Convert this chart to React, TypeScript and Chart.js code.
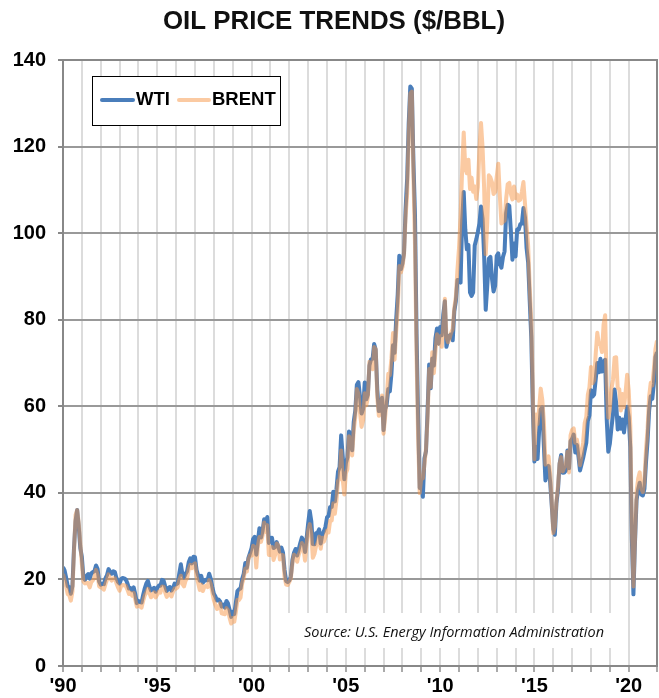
import { useEffect, useRef } from 'react';
import { Chart, registerables } from 'chart.js';

Chart.register(...registerables);

const TITLE = 'OIL PRICE TRENDS ($/BBL)';
const SOURCE = 'Source: U.S. Energy Information Administration';
const SERIES_NAMES = ['WTI', 'BRENT'];
const START_YEAR = 1990;
const X_MIN = 1990;
const X_MAX = 2021.5;
const Y_MIN = 0;
const Y_MAX = 140;
const Y_STEP = 20;
const LABEL_EVERY = 5;

// Monthly averages, Jan 1990 – Jul 2021
const WTI = [
  22.86, 22.11, 20.39, 18.43, 18.2, 16.7, 18.45, 27.31, 33.51, 36.04, 32.33, 27.28,
  25.23, 20.48, 19.9, 20.83, 21.23, 20.19, 21.4, 21.69, 21.89, 23.23, 22.46, 19.5,
  18.79, 19.01, 18.92, 20.23, 20.98, 22.39, 21.78, 21.34, 21.88, 21.69, 20.34, 19.41,
  19.03, 20.09, 20.32, 20.25, 19.95, 19.09, 17.89, 18.01, 17.5, 18.15, 16.61, 14.52,
  15.03, 14.78, 14.68, 16.42, 17.89, 19.06, 19.66, 18.38, 17.45, 17.72, 18.07, 17.16,
  18.04, 18.57, 18.54, 19.9, 19.74, 18.45, 17.33, 18.02, 18.23, 17.43, 17.99, 19.03,
  18.85, 19.09, 21.33, 23.5, 21.17, 20.42, 21.3, 21.9, 23.97, 24.88, 23.71, 25.23,
  25.13, 22.18, 20.97, 19.7, 20.82, 19.26, 19.66, 19.95, 19.8, 21.33, 20.19, 18.33,
  16.72, 16.06, 15.12, 15.35, 14.91, 13.72, 14.17, 13.47, 15.03, 14.46, 13.0, 11.35,
  12.52, 12.01, 14.68, 17.31, 17.72, 17.92, 20.1, 21.28, 23.8, 22.69, 25.0, 26.1,
  27.26, 29.37, 29.84, 25.72, 28.79, 31.82, 29.7, 31.26, 33.88, 33.11, 34.42, 28.44,
  29.59, 29.61, 27.25, 27.49, 28.63, 27.6, 26.43, 27.37, 26.2, 22.17, 19.64, 19.39,
  19.72, 20.72, 24.53, 26.18, 27.04, 25.52, 26.97, 28.39, 29.66, 28.84, 26.35, 29.46,
  32.95, 35.83, 33.51, 28.17, 28.11, 30.66, 30.75, 31.57, 28.31, 30.34, 31.11, 32.13,
  34.31, 34.69, 36.74, 36.75, 40.28, 38.03, 40.78, 44.9, 45.94, 53.28, 48.47, 43.15,
  46.84, 48.15, 54.19, 52.98, 49.83, 56.35, 59.0, 64.99, 65.59, 62.26, 58.32, 59.41,
  65.49, 61.63, 62.69, 69.44, 70.84, 70.95, 74.41, 73.04, 63.8, 58.89, 59.08, 61.96,
  54.51, 59.28, 60.44, 63.98, 63.46, 67.49, 74.12, 72.36, 79.92, 85.8, 94.77, 91.69,
  92.97, 95.39, 105.45, 112.58, 125.4, 133.88, 133.37, 116.67, 104.11, 76.61, 57.31, 41.12,
  41.71, 39.09, 47.94, 49.65, 59.03, 69.64, 64.15, 71.05, 69.41, 75.72, 77.99, 74.47,
  78.33, 76.39, 81.2, 84.29, 73.74, 75.34, 76.32, 76.6, 75.24, 81.89, 84.25, 89.15,
  89.17, 88.58, 102.86, 109.53, 100.9, 96.26, 97.3, 86.33, 85.52, 86.32, 97.16, 98.56,
  100.27, 102.2, 106.16, 103.32, 94.66, 82.3, 87.9, 94.13, 94.51, 89.49, 86.53, 87.86,
  94.76, 95.31, 92.94, 92.02, 94.51, 95.77, 104.67, 106.57, 106.29, 100.54, 93.86, 97.63,
  94.62, 100.82, 100.8, 102.07, 102.18, 105.79, 103.59, 96.54, 93.21, 84.4, 75.79, 59.29,
  47.22, 50.58, 47.82, 54.45, 59.27, 59.82, 50.9, 42.87, 45.48, 46.22, 42.44, 37.19,
  31.68, 30.32, 37.55, 40.75, 46.71, 48.76, 44.65, 44.72, 45.18, 49.78, 45.66, 51.97,
  52.5, 53.47, 49.33, 51.06, 48.48, 45.18, 46.63, 48.04, 49.82, 51.58, 56.64, 57.88,
  63.7, 62.23, 62.73, 66.25, 69.98, 67.87, 70.98, 68.06, 70.23, 70.75, 56.96, 49.52,
  51.38, 54.95, 58.15, 63.86, 60.83, 54.66, 57.35, 54.81, 56.95, 53.96, 57.03, 59.88,
  57.52, 50.54, 29.21, 16.55, 28.56, 38.31, 40.71, 42.34, 39.63, 39.4, 40.94, 47.02,
  52.0, 59.04, 62.33, 61.72, 65.17, 71.38, 72.49,
];

const BRENT = [
  21.25, 19.81, 18.39, 16.61, 16.35, 15.1, 17.17, 26.47, 34.9, 36.02, 33.07, 28.27,
  23.57, 19.54, 19.08, 19.18, 19.19, 18.17, 19.4, 19.77, 20.5, 22.21, 21.11, 18.41,
  18.16, 18.05, 17.63, 18.92, 19.89, 21.16, 20.25, 19.74, 20.27, 20.3, 19.13, 18.16,
  17.4, 18.51, 18.73, 18.64, 18.51, 17.63, 16.63, 16.95, 16.25, 16.88, 15.33, 13.72,
  14.03, 13.77, 13.49, 15.04, 16.28, 16.95, 17.84, 16.83, 15.88, 16.25, 17.04, 15.84,
  16.54, 17.19, 16.96, 18.36, 18.33, 17.04, 15.96, 16.52, 16.63, 16.06, 17.12, 17.9,
  17.87, 18.21, 19.86, 20.85, 18.95, 18.4, 19.71, 20.3, 22.38, 23.35, 22.6, 23.45,
  23.73, 20.71, 19.15, 17.59, 18.8, 17.34, 18.34, 18.57, 18.23, 19.84, 18.98, 17.05,
  15.19, 14.07, 13.17, 13.41, 14.46, 12.17, 12.05, 11.97, 13.37, 12.9, 11.17, 9.82,
  11.06, 10.23, 12.49, 15.28, 15.22, 15.85, 19.08, 20.22, 22.54, 21.82, 24.63, 25.57,
  25.51, 27.78, 27.49, 22.76, 27.74, 29.8, 28.68, 30.2, 33.14, 30.96, 32.55, 25.66,
  25.62, 27.5, 24.5, 25.66, 28.31, 27.85, 24.61, 25.68, 25.62, 20.54, 18.8, 18.71,
  19.42, 20.28, 23.7, 25.73, 25.35, 24.08, 25.74, 26.65, 28.4, 27.54, 24.34, 28.33,
  31.18, 32.77, 30.61, 25.0, 25.86, 27.65, 28.35, 29.89, 27.11, 29.61, 28.75, 29.81,
  31.28, 30.86, 33.63, 33.59, 37.57, 35.18, 38.22, 42.74, 43.2, 49.78, 43.11, 39.6,
  44.51, 45.48, 53.1, 51.88, 48.65, 54.35, 57.52, 63.98, 62.91, 58.54, 55.24, 56.86,
  62.99, 60.21, 62.06, 70.26, 69.78, 68.56, 73.67, 73.23, 61.96, 57.81, 58.76, 62.47,
  53.68, 57.56, 62.05, 67.49, 67.21, 71.05, 76.93, 70.76, 77.17, 82.34, 92.41, 90.93,
  92.18, 94.99, 103.64, 109.07, 122.8, 132.32, 132.72, 113.24, 97.23, 71.58, 52.45, 39.95,
  43.44, 43.32, 46.54, 50.18, 57.3, 68.61, 64.44, 72.51, 67.65, 72.77, 76.66, 74.46,
  76.17, 73.75, 78.83, 84.82, 75.95, 74.76, 75.58, 77.04, 77.84, 82.67, 85.28, 91.45,
  96.52, 103.72, 114.64, 123.26, 114.99, 113.83, 116.97, 110.22, 112.83, 109.55, 110.77, 107.87,
  110.69, 119.33, 125.45, 119.75, 110.34, 95.16, 102.62, 113.36, 112.86, 111.71, 109.06, 109.49,
  112.96, 116.05, 108.47, 102.25, 102.56, 102.92, 107.93, 111.28, 111.6, 109.08, 107.79, 110.76,
  108.12, 108.9, 107.48, 107.76, 109.54, 111.8, 106.77, 101.61, 97.09, 87.43, 79.44, 62.34,
  47.76, 58.1, 55.89, 59.52, 64.08, 61.48, 56.56, 46.52, 47.62, 48.43, 44.27, 38.01,
  30.7, 32.18, 38.21, 41.58, 46.74, 48.25, 44.95, 45.84, 46.57, 49.52, 44.73, 53.31,
  54.58, 54.87, 51.59, 52.31, 50.33, 46.37, 48.48, 51.7, 56.15, 57.51, 62.71, 64.37,
  69.08, 65.32, 66.02, 72.11, 76.98, 74.41, 74.25, 72.53, 78.89, 81.03, 64.75, 57.36,
  59.41, 63.96, 66.14, 71.23, 71.32, 64.22, 63.92, 59.04, 62.83, 59.71, 63.21, 67.31,
  63.65, 55.66, 32.01, 18.38, 29.38, 40.27, 43.24, 44.74, 40.91, 40.19, 42.69, 49.99,
  54.77, 62.28, 65.41, 64.81, 68.53, 73.16, 75.17,
];

const WTI_COLOR = '#4a7ebb';
const BRENT_COLOR = 'rgba(247,150,70,0.5)';
const FONT = '"Liberation Sans", Arial, sans-serif';

function fitText(ctx: CanvasRenderingContext2D, text: string, x: number, y: number, font: string, width: number, align: CanvasTextAlign) {
  ctx.save();
  ctx.font = font;
  const w = ctx.measureText(text).width;
  const s = width / w;
  ctx.translate(x, y);
  ctx.scale(s, 1);
  ctx.textAlign = align;
  ctx.textBaseline = 'middle';
  ctx.fillStyle = '#111';
  ctx.fillText(text, 0, 0);
  ctx.restore();
}

const overlayPlugin = {
  id: 'overlay',
  beforeDatasetsDraw(chart: any) {
    const ctx = chart.ctx as CanvasRenderingContext2D;
    ctx.save();
    ctx.fillStyle = '#fff';
    ctx.fillRect(288, 613, 332, 35);
    ctx.restore();
    fitText(ctx, SOURCE, 304, 633, 'italic 14px "Open Sans", sans-serif', 300, 'left');
  },
  afterDraw(chart: any) {
    const ctx = chart.ctx as CanvasRenderingContext2D;
    const a = chart.chartArea;
    ctx.save();
    ctx.strokeStyle = '#888';
    ctx.lineWidth = 2;
    ctx.strokeRect(a.left, a.top, a.right - a.left, a.bottom - a.top);
    // legend
    ctx.fillStyle = '#fff';
    ctx.fillRect(92, 76, 189, 50);
    ctx.strokeStyle = '#000';
    ctx.lineWidth = 1;
    ctx.strokeRect(92.5, 76.5, 188, 49);
    ctx.lineCap = 'round';
    ctx.lineWidth = 4;
    ctx.strokeStyle = WTI_COLOR;
    ctx.beginPath();
    ctx.moveTo(102, 100);
    ctx.lineTo(133, 100);
    ctx.stroke();
    ctx.strokeStyle = BRENT_COLOR;
    ctx.beginPath();
    ctx.moveTo(179, 100);
    ctx.lineTo(209, 100);
    ctx.stroke();
    ctx.fillStyle = '#000';
    ctx.font = `bold 18.5px ${FONT}`;
    ctx.textBaseline = 'middle';
    ctx.textAlign = 'left';
    ctx.fillText(SERIES_NAMES[0], 136, 100);
    ctx.fillText(SERIES_NAMES[1], 212, 100);
    ctx.restore();
    fitText(ctx, TITLE, 334, 22, `bold 26px ${FONT}`, 342, 'center');
  },
};

export default function App() {
  const ref = useRef<HTMLCanvasElement | null>(null);
  useEffect(() => {
    if (!ref.current) return;
    const toPoints = (arr: number[]) => arr.map((v, i) => ({ x: START_YEAR + i / 12, y: v }));
    const chart = new Chart(ref.current, {
      type: 'line',
      data: {
        datasets: [
          {
            label: SERIES_NAMES[0],
            data: toPoints(WTI),
            borderColor: WTI_COLOR,
            borderWidth: 4,
            pointRadius: 0,
            tension: 0,
            borderJoinStyle: 'round',
            order: 2,
          },
          {
            label: SERIES_NAMES[1],
            data: toPoints(BRENT),
            borderColor: BRENT_COLOR,
            borderWidth: 4,
            pointRadius: 0,
            tension: 0,
            borderJoinStyle: 'round',
            order: 1,
          },
        ],
      },
      options: {
        animation: false,
        responsive: false,
        layout: { padding: { top: 60, right: 1, left: 0, bottom: 0 } },
        plugins: { legend: { display: false }, tooltip: { enabled: false }, title: { display: false } },
        scales: {
          x: {
            type: 'linear',
            min: X_MIN,
            max: X_MAX,
            afterFit: (s: any) => { s.height = 32; },
            border: { display: true, color: '#888', width: 2 },
            grid: { color: '#dcdcdc', lineWidth: 2, tickLength: 6, tickColor: '#aaa' },
            ticks: {
              stepSize: 1,
              autoSkip: false,
              maxRotation: 0,
              padding: 2,
              color: '#000',
              font: { family: FONT, size: 20, weight: 'bold' },
              callback: (v: any) => (Number.isInteger(v) && v % LABEL_EVERY === 0 ? "'" + String(v).slice(2) : ''),
            },
          },
          y: {
            min: Y_MIN,
            max: Y_MAX,
            afterFit: (s: any) => { s.width = 63; },
            border: { display: true, color: '#888', width: 2 },
            grid: { color: '#999', lineWidth: 2, tickLength: 5, tickColor: '#888' },
            ticks: {
              stepSize: Y_STEP,
              padding: 12,
              color: '#000',
              font: { family: FONT, size: 20, weight: 'bold' },
            },
          },
        },
      },
      plugins: [overlayPlugin],
    });
    return () => chart.destroy();
  }, []);
  return (
    <div style={{ position: 'absolute', left: 0, top: 0, width: 659, height: 698, background: '#fff' }}>
      <canvas ref={ref} width={659} height={698} style={{ display: 'block' }} />
    </div>
  );
}
